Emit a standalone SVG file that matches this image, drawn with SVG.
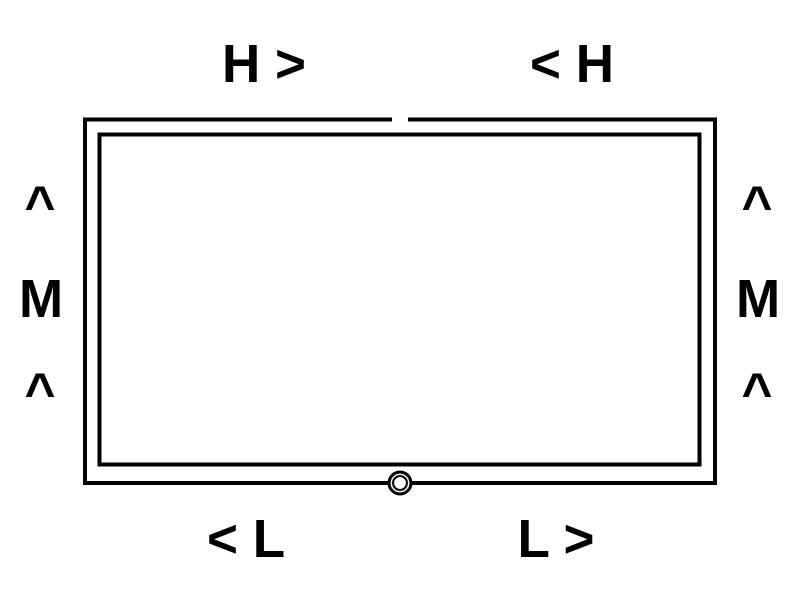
<svg xmlns="http://www.w3.org/2000/svg" width="800" height="600" viewBox="0 0 800 600">
<style>
.f{fill:none;stroke:#000;stroke-width:4;stroke-linejoin:miter}
.t{font-family:"Liberation Sans",Arial,sans-serif;font-weight:bold;font-size:53px;fill:#000;text-anchor:middle}
</style>
<rect width="800" height="600" fill="#fff"/>
<path class="f" d="M392 119.5 H85 V483 H715 V119.5 H408"/>
<rect class="f" x="99.5" y="134.5" width="600" height="330"/>
<circle cx="400" cy="483" r="11" fill="#fff" stroke="#000" stroke-width="3"/>
<circle cx="400" cy="483" r="7" fill="none" stroke="#000" stroke-width="2"/>
<text class="t" x="264" y="82">H &gt;</text>
<text class="t" x="572" y="82">&lt; H</text>
<text class="t" x="246" y="557">&lt; L</text>
<text class="t" x="556" y="557">L &gt;</text>
<text class="t" x="41" y="317">M</text>
<text class="t" x="758" y="317">M</text>
<text class="t" x="40" y="224">^</text>
<text class="t" x="40" y="411">^</text>
<text class="t" x="757" y="224">^</text>
<text class="t" x="757" y="411">^</text>
</svg>
